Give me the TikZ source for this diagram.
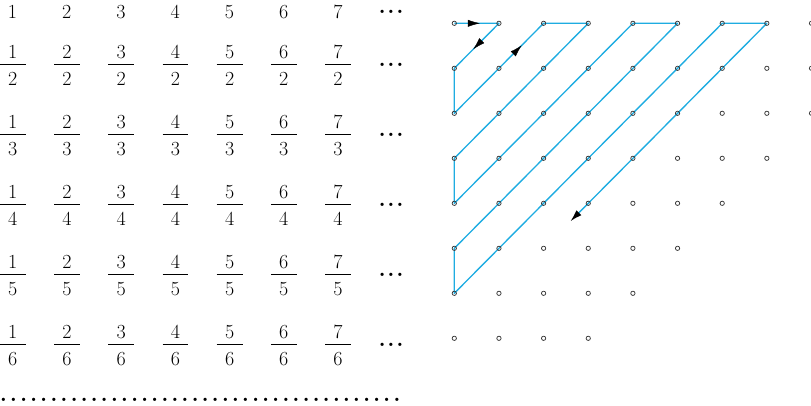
\documentclass[tikz,border=0pt]{standalone}
\usetikzlibrary{arrows.meta,decorations.markings,backgrounds}
\definecolor{zigblue}{RGB}{30,172,225}
\definecolor{dotgray}{RGB}{55,55,55}
\newcommand{\rowellipsis}{\fontsize{23}{26}\selectfont\bfseries.\kern1.7pt.\kern1.7pt.}
\begin{document}
\begin{tikzpicture}[x=1pt,y=-1pt,
  numtxt/.style={inner sep=0pt, font=\fontsize{20}{24}\selectfont},
  barline/.style={line width=0.9pt},
  dotnode/.style={circle, draw=dotgray, line width=0.75pt, inner sep=0pt, minimum size=4.3pt},
  zig/.style={draw=zigblue, line width=1.35pt, line join=round},
  tipmark/.style={postaction={decorate}, decoration={markings, mark=at position #1 with {\arrow[color=black]{Latex[length=12pt,width=7pt]}}}},
]
\useasboundingbox (0,0) rectangle (811,405);

% ---- left table ----
\foreach \i in {1,...,7}
  \node[numtxt] (n1-\i) at ({12.5+54.25*(\i-1)},11.7) {\i};
\node[numtxt, anchor=base] (e1) at (391,13.4) {\rowellipsis};

\foreach \r in {2,...,6}{
  \pgfmathsetmacro{\by}{64.3+70*(\r-2)}
  \foreach \i in {1,...,7}{
    \pgfmathsetmacro{\bx}{12.8+54.2*(\i-1)}
    \node[numtxt] (num\r-\i) at (\bx,\by-12.6) {\i};
    \node[numtxt] (den\r-\i) at (\bx,\by+14.7) {\r};
    \draw[barline] (\bx-12.9,\by) -- (\bx+12.9,\by);
  }
  \node[numtxt, anchor=base] (e\r) at (391,\by+1.7) {\rowellipsis};
}
\node[numtxt, anchor=base west] (bottomdots) at (-1.75,401.7)
  {\fontsize{23}{26}\selectfont\bfseries\hbox to 403.5pt{\cleaders\hbox to 10.0875pt{\hss.\hss}\hfill}};

% ---- right grid ----
\foreach \r/\n in {1/9,2/9,3/9,4/8,5/7,6/6,7/5,8/4}
  \foreach \c in {1,...,\n}
    \node[dotnode] (d\c-\r) at ({454.3+44.65*(\c-1)},{23.3+45*(\r-1)}) {};
\coordinate (zigend) at ({454.3+44.65*2.6},{23.3+45*4.4});

\begin{scope}[on background layer]
\draw[zig, -{Latex[length=12pt,width=7pt,color=black]}]
  (d1-1.center) -- (d2-1.center) -- (d1-2.center) -- (d1-3.center) -- (d3-1.center)
  -- (d4-1.center) -- (d1-4.center) -- (d1-5.center) -- (d5-1.center)
  -- (d6-1.center) -- (d1-6.center) -- (d1-7.center) -- (d7-1.center)
  -- (d8-1.center) -- (zigend);
\end{scope}
\path[tipmark=0.575] (d1-1.center) -- (d2-1.center);
\path[tipmark=0.575] (d2-1.center) -- (d1-2.center);
\path[tipmark=0.755] (d1-3.center) -- (d3-1.center);
\end{tikzpicture}
\end{document}
